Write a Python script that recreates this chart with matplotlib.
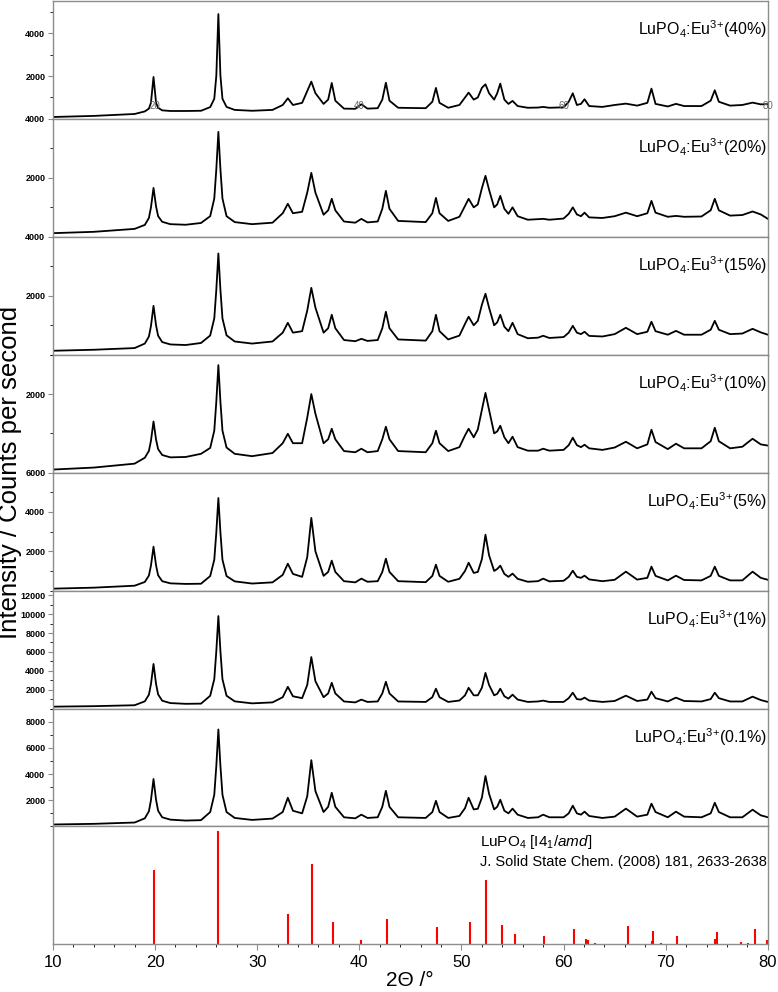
import matplotlib
matplotlib.use("Agg")
import matplotlib.pyplot as plt
import numpy as np
from matplotlib.ticker import MultipleLocator, FixedLocator

plt.rcParams['font.family'] = ['Liberation Sans', 'DejaVu Sans']
plt.rcParams['mathtext.fontset'] = 'custom'
plt.rcParams['mathtext.rm'] = 'Liberation Sans'
plt.rcParams['mathtext.it'] = 'Liberation Sans:italic'

# shared 2theta sampling points (deg)
two_theta = [10, 14, 18, 19.0, 19.4, 19.6, 19.85, 20.1, 20.3, 20.7,
             21.5, 23.0, 24.5, 25.4, 25.8, 26.0, 26.2, 26.4, 26.6, 27.0,
             27.8, 29.5,
             31.5, 32.5, 33.0, 33.5, 34.4,
             34.9, 35.3, 35.7, 36.5, 36.95, 37.3, 37.65, 38.5, 39.6, 40.2,
             40.8, 41.8, 42.25, 42.6, 42.95, 43.8, 46.5, 47.15, 47.5, 47.85,
             48.7, 49.8, 50.35, 50.7, 51.2, 51.6, 52.0, 52.35, 52.7, 53.2,
             53.5, 53.8, 54.2, 54.6, 55.0, 55.5, 56.5, 57.5, 58.0, 58.6,
             60.0, 60.5, 60.9, 61.3, 61.7, 62.05, 62.5, 63.8, 65.0, 66.1,
             67.2, 68.2, 68.6, 69.0, 70.2, 71.0, 71.8, 73.5, 74.4, 74.8,
             75.2, 76.3, 77.5, 78.5, 79.3, 80]

eu40 = [90, 140, 230, 350, 480, 750, 1957, 750, 520, 400,
        370, 370, 380, 550, 940, 2020, 4890, 2020, 940, 560,
        420, 380,
        420, 650, 963, 650, 750,
        1300, 1740, 1200, 700, 900, 1677, 850, 480, 470, 683,
        480, 500, 900, 1690, 850, 520, 500, 800, 1445, 750,
        520, 650, 1000, 1227, 900, 1000, 1450, 1615, 1200, 900,
        1200, 1646, 900, 700, 840, 600, 520, 530, 560, 520,
        540, 800, 1196, 650, 700, 917, 600, 560, 650, 713,
        620, 750, 1413, 700, 580, 702, 600, 600, 850, 1337,
        800, 620, 650, 760, 680, 690]

eu20 = [125, 170, 270, 405, 640, 995, 1660, 1030, 700, 510,
        430, 410, 470, 700, 1300, 2300, 3560, 2300, 1300, 700,
        500, 430,
        480, 800, 1120, 800, 850,
        1500, 2170, 1500, 750, 900, 1290, 900, 520, 480, 610,
        490, 520, 950, 1560, 950, 540, 500, 800, 1320, 800,
        540, 680, 1050, 1290, 1000, 1100, 1650, 2070, 1600, 1000,
        1100, 1390, 950, 780, 1000, 700, 580, 600, 610, 580,
        620, 780, 1000, 760, 700, 820, 660, 640, 700, 820,
        700, 800, 1220, 820, 680, 710, 680, 690, 900, 1290,
        900, 720, 740, 860, 760, 610]

eu15 = [136, 170, 227, 380, 620, 980, 1660, 1000, 650, 430,
        350, 330, 400, 655, 1235, 2210, 3435, 2210, 1235, 660,
        450, 380,
        450, 750, 1085, 750, 800,
        1500, 2270, 1600, 750, 900, 1356, 900, 500, 460, 540,
        470, 500, 900, 1458, 900, 520, 480, 800, 1356, 800,
        520, 650, 1050, 1290, 1000, 1150, 1700, 2070, 1600, 1000,
        1100, 1356, 950, 800, 1085, 700, 560, 580, 645, 570,
        600, 750, 983, 750, 700, 780, 640, 620, 700, 915,
        700, 780, 1120, 800, 680, 810, 680, 680, 850, 1150,
        850, 700, 720, 880, 760, 680]

eu10 = [80, 130, 230, 380, 555, 815, 1303, 840, 600, 450,
        390, 400, 480, 630, 1070, 1810, 2736, 1810, 1070, 640,
        480, 420,
        500, 750, 990, 750, 750,
        1400, 2000, 1500, 750, 850, 1118, 850, 550, 520, 610,
        520, 550, 850, 1170, 850, 550, 520, 750, 1067, 750,
        550, 650, 950, 1118, 900, 1100, 1600, 2030, 1600, 1000,
        1050, 1194, 900, 750, 915, 650, 560, 560, 610, 560,
        580, 700, 890, 700, 650, 711, 620, 580, 640, 787,
        620, 720, 1092, 780, 600, 737, 620, 620, 800, 1143,
        800, 620, 660, 864, 720, 690]

eu5 = [100, 150, 250, 440, 765, 1270, 2235, 1280, 780, 480,
       370, 340, 350, 740, 1570, 2970, 4710, 2970, 1570, 740,
       470, 360,
       420, 800, 1370, 850, 700,
       1700, 3700, 2000, 750, 950, 1525, 950, 480, 420, 610,
       450, 480, 950, 1625, 950, 480, 430, 750, 1320, 750,
       450, 600, 1000, 1420, 900, 950, 1600, 2845, 1800, 1000,
       1100, 1270, 850, 700, 865, 600, 450, 480, 610, 470,
       500, 700, 1016, 700, 650, 760, 570, 480, 550, 965,
       560, 650, 1220, 750, 520, 760, 540, 520, 750, 1220,
       750, 520, 520, 965, 650, 550]

eu1 = [200, 250, 350, 765, 1470, 2590, 4725, 2600, 1500, 830,
       580, 500, 520, 1355, 3120, 6090, 9800, 6090, 3120, 1360,
       760, 550,
       650, 1200, 2300, 1300, 1100,
       2500, 5460, 2900, 1200, 1600, 2730, 1600, 750, 650, 945,
       700, 750, 1600, 2835, 1600, 750, 700, 1200, 2100, 1200,
       700, 850, 1400, 2200, 1400, 1400, 2200, 3780, 2500, 1400,
       1550, 2100, 1300, 1050, 1470, 950, 700, 750, 840, 700,
       700, 1100, 1680, 1000, 950, 1155, 850, 700, 800, 1365,
       800, 950, 1785, 1100, 750, 1155, 800, 750, 1000, 1680,
       1100, 750, 750, 1260, 900, 700]

eu01 = [150, 200, 300, 620, 1160, 2010, 3620, 2030, 1200, 700,
        520, 450, 480, 1100, 2420, 4630, 7400, 4630, 2420, 1100,
        650, 500,
        600, 1100, 2190, 1200, 1000,
        2300, 5060, 2700, 1100, 1500, 2570, 1500, 700, 620, 900,
        650, 700, 1500, 2720, 1500, 700, 650, 1100, 1960, 1100,
        650, 800, 1400, 2190, 1300, 1350, 2200, 3850, 2500, 1300,
        1500, 2040, 1200, 1000, 1360, 900, 650, 700, 900, 700,
        700, 1000, 1585, 1000, 900, 1130, 800, 650, 750, 1360,
        750, 900, 1740, 1100, 700, 1130, 750, 700, 1000, 1810,
        1100, 700, 700, 1280, 850, 700]

patterns = [eu40, eu20, eu15, eu10, eu5, eu1, eu01]
labels = ["40%", "20%", "15%", "10%", "5%", "1%", "0.1%"]
y_tops = [5500, 4000, 4000, 3000, 6000, 12500, 9000]

# reference pattern LuPO4 (relative intensity)
ref_pos = [19.85, 26.2, 33.0, 35.37, 37.4, 40.2, 42.7, 47.6, 50.8, 52.4,
           53.95, 55.2, 58.1, 61.05, 62.15, 62.4, 63.1, 66.3, 68.65, 68.8,
           69.5, 71.15, 74.85, 74.98, 77.35, 78.1, 78.7, 79.9]
ref_int = [66, 100, 27, 71, 20, 4, 22, 15, 20, 57,
           17, 9.5, 7.5, 14, 4.4, 3.5, 0.9, 16.6, 2.7, 11.5,
           0.9, 7.7, 5, 10.6, 2.1, 0.9, 13.7, 4.2]

inner_ticks = [20, 40, 60, 80]

frame_col = '#8c8c8c'

for p in patterns:
    assert len(p) == len(two_theta)

fig, axes = plt.subplots(8, 1, figsize=(7.78, 9.92), dpi=100, sharex=True)
fig.subplots_adjust(left=0.068, right=0.987, top=0.999, bottom=0.048, hspace=0)

for ax in axes:
    for sp in ax.spines.values():
        sp.set_color(frame_col)
        sp.set_linewidth(1.0)
    ax.tick_params(colors=frame_col, labelcolor='black', width=0.8)
    ax.set_xlim(10, 80)
    ax.xaxis.set_major_locator(MultipleLocator(10))
    ax.xaxis.set_minor_locator(MultipleLocator(2))
    ax.tick_params(axis='x', which='both', labelbottom=False)

for ax, y, lab, top in zip(axes[:7], patterns, labels, y_tops):
    ax.plot(two_theta, y, color='black', lw=1.3)
    ax.set_ylim(0, top)
    ax.yaxis.set_major_locator(FixedLocator(np.arange(2000, top + 1, 2000)))
    ax.yaxis.set_minor_locator(MultipleLocator(1000))
    ax.tick_params(axis='y', which='major', length=3.5, labelsize=6.5, pad=2)
    ax.tick_params(axis='y', which='minor', length=2)
    for t in ax.get_yticklabels():
        t.set_fontweight('bold')
    ax.tick_params(axis='x', which='both', length=0)
    ax.text(0.999, 0.76, r"LuPO$_4$:Eu$^{3{+}}$(" + lab + ")", transform=ax.transAxes,
            ha='right', va='center', fontsize=11.5)

for xt in inner_ticks:
    axes[0].text(xt, 0.11, str(xt), transform=axes[0].get_xaxis_transform(),
                 ha='center', va='center', fontsize=7, color='#666666')

ref = axes[7]
ref.vlines(ref_pos, 0, ref_int, color='red', lw=1.5)
ref.set_ylim(0, 104)
ref.set_yticks([])
ref.tick_params(axis='x', which='both', labelbottom=True, direction='out')
ref.tick_params(axis='x', which='major', length=4, labelsize=12)
ref.tick_params(axis='x', which='minor', length=2)
ref.text(0.597, 0.87, r"LuPO$_4$ [I4$_1$/$amd$]", transform=ref.transAxes,
         ha='left', va='center', fontsize=11)
ref.text(0.597, 0.70, "J. Solid State Chem. (2008) 181, 2633-2638", transform=ref.transAxes,
         ha='left', va='center', fontsize=10.5)

fig.text(0.527, 0.012, "2Θ /°", ha='center', va='center', fontsize=15)
fig.text(0.013, 0.524, "Intensity / Counts per second", rotation=90,
         ha='center', va='center', fontsize=18.5)

fig.savefig("out.png", dpi=100)
